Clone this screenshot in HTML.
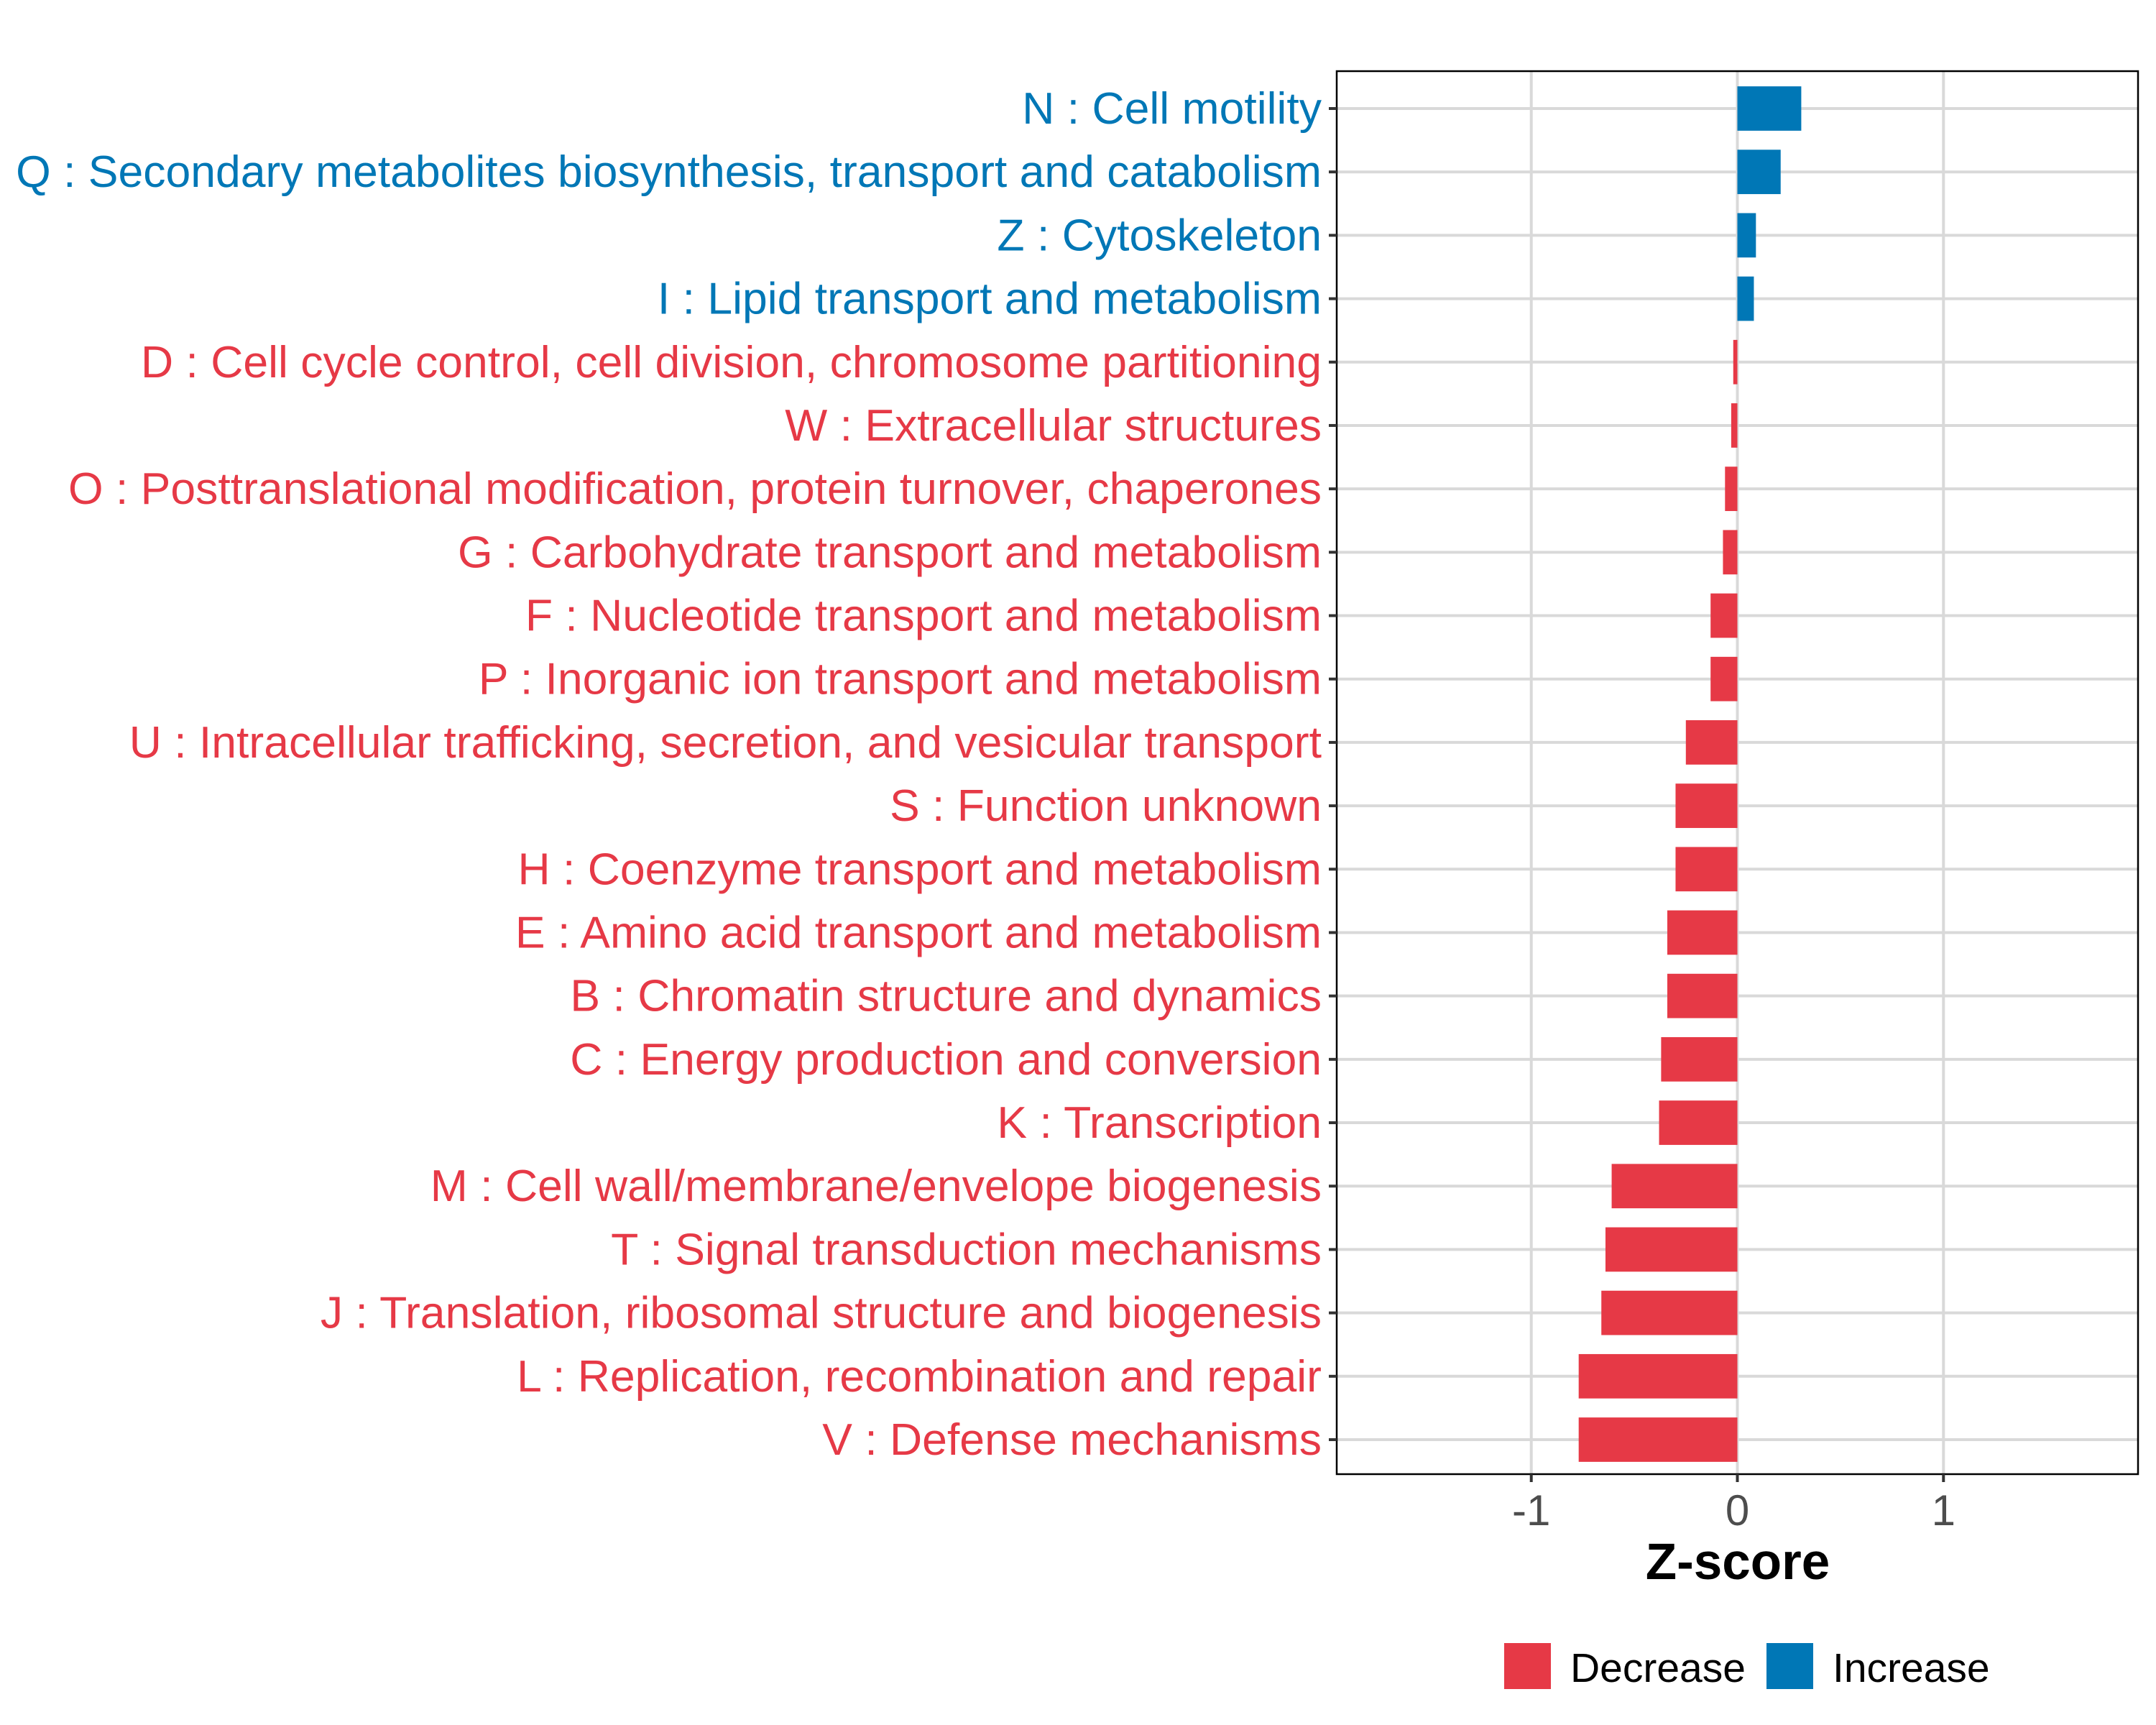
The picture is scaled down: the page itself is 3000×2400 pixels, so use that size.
<!DOCTYPE html>
<html><head><meta charset="utf-8"><style>
html,body{margin:0;padding:0;background:#fff;}
svg{display:block;font-family:"Liberation Sans",Arial,sans-serif;}
</style></head><body>
<svg id="chart" width="3000" height="2400" viewBox="0 0 3000 2400">
<rect x="0" y="0" width="3000" height="2400" fill="#fff"/>
<g id="grid"></g>
<g id="bars"></g>
<rect x="1860" y="99" width="1115" height="1952" fill="none" stroke="#000" stroke-width="2.5"/>
<g id="ylabels"></g>
<g id="xaxis"></g>
<text x="2418" y="2197" text-anchor="middle" font-size="71" font-weight="bold" fill="#000">Z-score</text>
<g>
<rect x="2093" y="2286" width="65" height="64" fill="#e63946"/>
<text x="2185" y="2340" font-size="57" fill="#000">Decrease</text>
<rect x="2458" y="2286" width="65" height="64" fill="#0077b6"/>
<text x="2550" y="2340" font-size="57" fill="#000">Increase</text>
</g>
</svg>
<script>
const categories = ["N : Cell motility","Q : Secondary metabolites biosynthesis, transport and catabolism","Z : Cytoskeleton","I : Lipid transport and metabolism","D : Cell cycle control, cell division, chromosome partitioning","W : Extracellular structures","O : Posttranslational modification, protein turnover, chaperones","G : Carbohydrate transport and metabolism","F : Nucleotide transport and metabolism","P : Inorganic ion transport and metabolism","U : Intracellular trafficking, secretion, and vesicular transport","S : Function unknown","H : Coenzyme transport and metabolism","E : Amino acid transport and metabolism","B : Chromatin structure and dynamics","C : Energy production and conversion","K : Transcription","M : Cell wall/membrane/envelope biogenesis","T : Signal transduction mechanisms","J : Translation, ribosomal structure and biogenesis","L : Replication, recombination and repair","V : Defense mechanisms"];
const zscores = [0.31,0.21,0.09,0.08,-0.02,-0.03,-0.06,-0.07,-0.13,-0.13,-0.25,-0.30,-0.30,-0.34,-0.34,-0.37,-0.38,-0.61,-0.64,-0.66,-0.77,-0.77];
const xTicks = [-1,0,1];
const xTickLabels = ["-1","0","1"];

const NS="http://www.w3.org/2000/svg";
const panel={l:1860,r:2975,t:99,b:2051};
const xmin=-1.944,xmax=1.944;
const X=v=>panel.l+(v-xmin)/(xmax-xmin)*(panel.r-panel.l);
const firstY=151,lastY=2003;
const step=(lastY-firstY)/(categories.length-1);
const Y=i=>firstY+step*i;
const RED="#e63946",BLUE="#0077b6";
function mk(tag,attrs){const e=document.createElementNS(NS,tag);for(const k in attrs)e.setAttribute(k,attrs[k]);return e;}
const grid=document.getElementById('grid'),bars=document.getElementById('bars'),yl=document.getElementById('ylabels'),xa=document.getElementById('xaxis');
grid.appendChild(mk('rect',{x:panel.l,y:panel.t,width:panel.r-panel.l,height:panel.b-panel.t,fill:'#fff'}));
xTicks.forEach((v,i)=>{
 const g=mk('line',{x1:X(v),x2:X(v),y1:panel.t,y2:panel.b,stroke:'#d9d9d9','stroke-width':4});
 
 
 grid.appendChild(g);
 const t=mk('line',{x1:X(v),x2:X(v),y1:panel.b,y2:panel.b+11,stroke:'#333','stroke-width':4});
 
 
 xa.appendChild(t);
 const tx=mk('text',{x:X(v),y:2122,'text-anchor':'middle','font-size':60,fill:'#4d4d4d'});
 tx.textContent=xTickLabels[i];
 
 
 xa.appendChild(tx);
});
categories.forEach((c,i)=>{
 const y=Y(i);
 const g=mk('line',{x1:panel.l,x2:panel.r,y1:y,y2:y,stroke:'#d9d9d9','stroke-width':4});
 
 
 grid.appendChild(g);
 const v=zscores[i];
 const x0=X(0),x1=X(v);
 const bh=step*0.7;
 const r=mk('rect',{x:Math.min(x0,x1),y:y-bh/2,width:Math.abs(x1-x0),height:bh,fill:v>=0?BLUE:RED});
 
 
 bars.appendChild(r);
 const tk=mk('line',{x1:panel.l-11,x2:panel.l,y1:y,y2:y,stroke:'#333','stroke-width':4});
 
 
 yl.appendChild(tk);
 const t=mk('text',{x:1839,y:y+21,'text-anchor':'end','font-size':62.5,fill:v>=0?BLUE:RED});
 t.textContent=c;
 
 
 yl.appendChild(t);
});
</script>
</body></html>
